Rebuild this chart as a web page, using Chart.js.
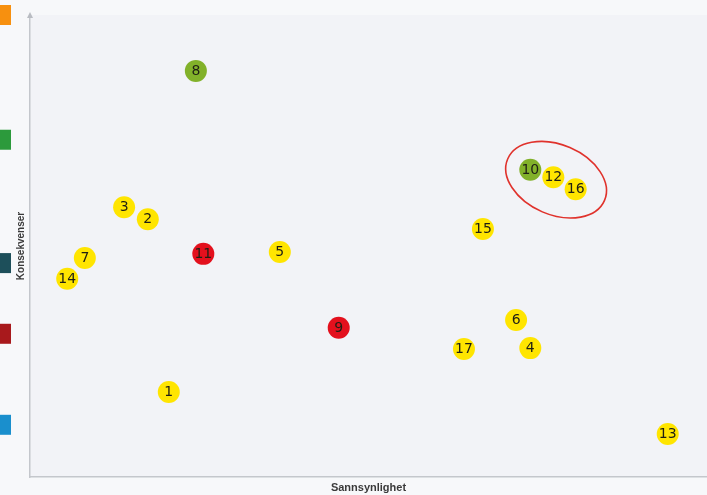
<!DOCTYPE html>
<html>
<head>
<meta charset="utf-8">
<script src="https://cdn.jsdelivr.net/npm/chart.js@4"></script>
<style>
html,body{margin:0;padding:0;background:#f7f8fa;}
canvas{display:block;}
</style>
</head>
<body>
<canvas id="c" width="707" height="495"></canvas>
<script>
// Risk IDs, probability (x) and consequence (y) values
const ids = ["1","2","3","4","5","6","7","8","9","10","11","12","13","14","15","16","17"];
const probability = [2.05,1.74,1.39,7.39,3.69,7.18,0.81,2.45,4.56,7.39,2.56,7.73,9.42,0.55,6.69,8.06,6.41];
const consequence = [1.84,5.58,5.84,2.79,4.87,3.40,4.74,8.79,3.23,6.65,4.83,6.49,0.93,4.29,5.37,6.23,2.77];
const riskColor = ["yellow","yellow","yellow","yellow","yellow","yellow","yellow","green","red","green","red","yellow","yellow","yellow","yellow","yellow","yellow"];
const palette = {yellow:"#ffe500", green:"#82b12a", red:"#e3101d"};
// Consequence level markers along the left edge
const levelValues = [10.0, 7.3, 4.63, 3.1, 1.13];
const levelColors = ["#f7900f", "#2c9a3c", "#1d4f5a", "#a8191c", "#1a8fcd"];
// Highlighted group
const highlighted = ["10","12","16"];

const points = probability.map((x,i)=>({x:x, y:consequence[i]}));

const decor = {
  id:'decor',
  beforeDraw(chart){
    const {ctx, chartArea:a} = chart;
    ctx.save();
    ctx.fillStyle = '#f2f3f7';
    ctx.fillRect(a.left, a.top, a.right-a.left, a.bottom-a.top);
    ctx.restore();
  },
  afterDraw(chart){
    const {ctx, chartArea:a, scales} = chart;
    const ys = scales.y;
    ctx.save();
    // level squares
    levelValues.forEach((v,i)=>{
      const py = ys.getPixelForValue(v);
      ctx.fillStyle = levelColors[i];
      ctx.fillRect(0, py-10, 11, 20);
    });
    // axis arrow
    ctx.fillStyle = '#b9bcc2';
    ctx.beginPath();
    ctx.moveTo(a.left, a.top-3);
    ctx.lineTo(a.left-3, a.top+3);
    ctx.lineTo(a.left+3, a.top+3);
    ctx.closePath();
    ctx.fill();
    // labels
    const meta = chart.getDatasetMeta(0);
    ctx.font = '14px "DejaVu Sans"';
    ctx.textAlign = 'center';
    ctx.textBaseline = 'middle';
    ctx.fillStyle = '#1f1f14';
    meta.data.forEach((el,i)=>{
      ctx.fillText(ids[i], el.x, el.y+0.5);
    });
    // hand-drawn ellipse around highlighted group
    const hp = highlighted.map(id=>meta.data[ids.indexOf(id)]);
    const cx = hp.reduce((s,p)=>s+p.x,0)/hp.length + 3;
    const cy = hp.reduce((s,p)=>s+p.y,0)/hp.length + 1;
    const first = hp[0], last = hp[hp.length-1];
    const ang = Math.atan2(last.y-first.y, last.x-first.x);
    const half = Math.hypot(last.x-first.x, last.y-first.y)/2;
    ctx.strokeStyle = '#e0322c';
    ctx.lineWidth = 1.6;
    ctx.beginPath();
    ctx.ellipse(cx, cy, half+28, 35, ang, 0, Math.PI*2);
    ctx.stroke();
    ctx.restore();
  }
};

new Chart(document.getElementById('c'), {
  type:'scatter',
  data:{
    datasets:[{
      data: points,
      backgroundColor: riskColor.map(c=>palette[c]),
      borderWidth: 0,
      pointRadius: 11,
      pointHoverRadius: 11
    }]
  },
  options:{
    responsive:false,
    animation:false,
    events:[],
    layout:{autoPadding:false, padding:{left:12, top:15, right:0, bottom:0}},
    plugins:{legend:{display:false}, tooltip:{enabled:false}},
    scales:{
      x:{
        min:0, max:10,
        grid:{display:false},
        ticks:{display:false},
        border:{display:true, color:'#c4c7cc', width:1.5},
        title:{display:true, text:'Sannsynlighet', color:'#3a3a3a',
               font:{family:'"Liberation Sans"', size:11, weight:'bold'}, padding:{top:4, bottom:0}},
        afterFit(axis){ axis.height = 18; }
      },
      y:{
        min:0, max:10,
        grid:{display:false},
        ticks:{display:false},
        border:{display:true, color:'#c4c7cc', width:1.5},
        title:{display:true, text:'Konsekvenser', color:'#3a3a3a',
               font:{family:'"Liberation Sans"', size:10, weight:'bold'}, padding:{top:3, bottom:0}},
        afterFit(axis){ axis.width = 18; }
      }
    }
  },
  plugins:[decor]
});
</script>
</body>
</html>
